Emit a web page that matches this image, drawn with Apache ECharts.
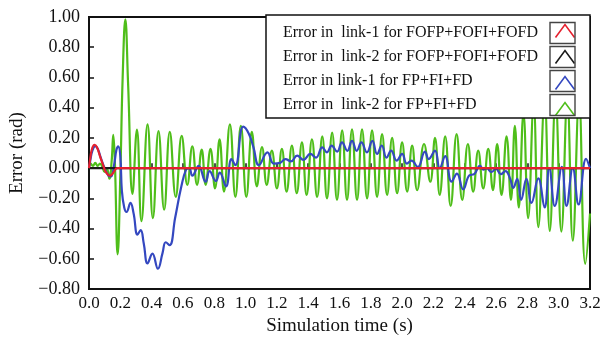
<!DOCTYPE html>
<html>
<head>
<meta charset="utf-8">
<script src="https://cdn.jsdelivr.net/npm/echarts@6/dist/echarts.min.js"></script>
<style>html,body{margin:0;padding:0;background:#fff;}#chart{width:608px;height:341px;}</style>
</head>
<body>
<div id="chart"></div>
<script>
// ---- tick labels ----
const xTickLabels = ['0.0','0.2','0.4','0.6','0.8','1.0','1.2','1.4','1.6','1.8','2.0','2.2','2.4','2.6','2.8','3.0','3.2'];
const yTickLabels = ['\u22120.80','\u22120.60','\u22120.40','\u22120.20','0.00','0.20','0.40','0.60','0.80','1.00'];

// ---- series names ----
const seriesNames = [
  'Error in  link-1 for FOFP+FOFI+FOFD',
  'Error in  link-2 for FOFP+FOFI+FOFD',
  'Error in link-1 for FP+FI+FD',
  'Error in  link-2 for FP+FI+FD'
];
const seriesColors = ['#e5202e', '#1a1a1a', '#3448c0', '#4fbe1a'];

// ---- data: [time (s), error (rad)] ----
const link1FOError = [[0,0],[0.01,0.08],[0.02,0.13],[0.035,0.155],[0.05,0.14],[0.07,0.08],[0.09,0.02],[0.11,-0.03],[0.135,-0.05],[0.155,-0.03],[0.18,0],[0.25,0],[3.2,0]];
const link2FOError = [[0,0],[0.8,0],[1.6,0],[2.4,0],[3.2,0]];
const link1FPError = [[0,0],[0.01,0.06],[0.02,0.11],[0.04,0.145],[0.055,0.13],[0.075,0.07],[0.1,0.0],[0.125,-0.05],[0.14,-0.055],[0.16,0.02],[0.175,0.12],[0.187,0.145],[0.2,0.08],[0.21,-0.15],[0.225,-0.26],[0.24,-0.29],[0.265,-0.23],[0.285,-0.3],[0.31,-0.44],[0.33,-0.41],[0.35,-0.5],[0.374,-0.63],[0.405,-0.565],[0.44,-0.665],[0.47,-0.56],[0.49,-0.49],[0.515,-0.51],[0.55,-0.33],[0.59,-0.12],[0.62,-0.01],[0.64,0.0],[0.66,-0.05],[0.70,0.015],[0.745,-0.09],[0.77,-0.02],[0.81,-0.085],[0.835,-0.03],[0.875,-0.12],[0.91,0.06],[0.935,0.02],[0.985,0.275],[1.02,0.23],[1.05,0.14],[1.085,0.02],[1.14,0.105],[1.18,0.03],[1.22,0.035],[1.255,0.06],[1.29,0.045],[1.33,0.083],[1.37,0.055],[1.414,0.094],[1.45,0.07],[1.49,0.138],[1.52,0.105],[1.55,0.149],[1.585,0.11],[1.616,0.17],[1.65,0.115],[1.68,0.18],[1.71,0.115],[1.74,0.17],[1.775,0.105],[1.81,0.18],[1.84,0.094],[1.87,0.15],[1.90,0.07],[1.93,0.116],[1.965,0.05],[2.0,0.094],[2.03,0.03],[2.06,0.05],[2.10,0.008],[2.146,0.11],[2.17,0.06],[2.21,0.116],[2.24,0.0],[2.275,0.08],[2.316,-0.09],[2.35,-0.036],[2.39,-0.14],[2.43,-0.047],[2.46,-0.04],[2.497,0.015],[2.52,-0.01],[2.54,0.0],[2.57,-0.025],[2.60,-0.005],[2.63,-0.04],[2.66,-0.02],[2.69,-0.07],[2.71,-0.13],[2.735,-0.07],[2.76,-0.21],[2.794,-0.07],[2.826,-0.23],[2.87,-0.068],[2.91,-0.26],[2.94,0.0],[2.975,-0.25],[3.02,0.008],[3.05,-0.25],[3.09,0.0],[3.127,-0.24],[3.175,0.062],[3.2,0.0]];
const link2FPError = [[0,0],[0.01,0.03],[0.025,0.015],[0.04,0.035],[0.055,0.015],[0.07,0.03],[0.085,0.01],[0.1,-0.025],[0.115,-0.005],[0.13,-0.07],[0.145,0.05],[0.155,0.22],[0.165,0.05],[0.183,-0.57],[0.2,-0.05],[0.215,0.6],[0.232,0.985],[0.25,0.55],[0.278,-0.17],[0.306,0.255],[0.335,-0.35],[0.374,0.29],[0.408,-0.33],[0.444,0.246],[0.48,-0.275],[0.516,0.24],[0.554,-0.19],[0.592,0.214],[0.628,-0.11],[0.66,0.145],[0.69,-0.11],[0.72,0.123],[0.745,-0.11],[0.776,0.127],[0.805,-0.134],[0.834,0.19],[0.862,-0.155],[0.9,0.29],[0.935,-0.19],[0.97,0.28],[1.005,-0.19],[1.04,0.24],[1.072,-0.12],[1.105,0.14],[1.135,-0.11],[1.168,0.116],[1.2,-0.134],[1.232,0.127],[1.262,-0.155],[1.296,0.149],[1.327,-0.166],[1.36,0.17],[1.39,-0.177],[1.424,0.19],[1.457,-0.19],[1.49,0.21],[1.52,-0.2],[1.553,0.236],[1.584,-0.21],[1.617,0.25],[1.648,-0.21],[1.68,0.257],[1.712,-0.21],[1.744,0.257],[1.776,-0.2],[1.808,0.25],[1.84,-0.19],[1.872,0.225],[1.904,-0.177],[1.936,0.2],[1.968,-0.166],[2.0,0.17],[2.032,-0.155],[2.064,0.149],[2.096,-0.145],[2.14,0.16],[2.18,-0.09],[2.21,0.2],[2.24,-0.177],[2.275,0.21],[2.31,-0.25],[2.348,0.225],[2.384,-0.21],[2.42,0.16],[2.454,-0.155],[2.486,0.116],[2.518,-0.134],[2.55,0.127],[2.58,-0.145],[2.607,0.16],[2.635,-0.177],[2.667,0.21],[2.695,-0.21],[2.72,0.28],[2.745,-0.26],[2.775,0.36],[2.805,-0.33],[2.84,0.42],[2.87,-0.39],[2.91,0.45],[2.943,-0.415],[2.98,0.45],[3.017,-0.42],[3.055,0.45],[3.09,-0.48],[3.13,0.45],[3.17,-0.633],[3.2,-0.3]];

const seriesData = [link1FOError, link2FOError, link1FPError, link2FPError];

const FONT = 'Liberation Serif';
const chart = echarts.init(document.getElementById('chart'), null, {renderer: 'canvas'});

// draw order: green (bottom), blue, black, red (top)
const drawOrder = [3, 2, 1, 0];
const series = drawOrder.map(i => ({
  name: seriesNames[i],
  type: 'line',
  data: seriesData[i],
  showSymbol: false,
  symbol: 'none',
  smooth: 0.45,
  color: seriesColors[i],
  lineStyle: {color: seriesColors[i], width: 2.2},
  itemStyle: {color: seriesColors[i]},
  animation: false
}));

// legend geometry
const legLeft = 266, legTop = 15, rowH = 16, rowGap = 8, padTop = 10;
const frames = seriesNames.map((n, i) => ({
  type: 'rect',
  z: 20,
  shape: {x: 550, y: legTop + padTop + rowH / 2 + i * (rowH + rowGap) - 10.5, width: 25, height: 21},
  style: {fill: 'none', stroke: '#444', lineWidth: 1.4}
}));

chart.setOption({
  animation: false,
  backgroundColor: '#fff',
  grid: {left: 87, right: 18, top: 17, bottom: 48, show: true, borderColor: '#111', borderWidth: 2, backgroundColor: 'transparent'},
  xAxis: {
    type: 'value', min: 0, max: 3.2, interval: 0.2,
    name: 'Simulation time (s)', nameLocation: 'middle', nameGap: 25,
    nameTextStyle: {fontFamily: FONT, fontSize: 19, color: '#111'},
    axisLine: {show: true, lineStyle: {color: '#111', width: 2}},
    axisTick: {show: true, inside: true, length: 5, lineStyle: {color: '#111', width: 1.5}},
    axisLabel: {fontFamily: FONT, fontSize: 17, color: '#111', margin: 6,
      formatter: v => xTickLabels[Math.round(v / 0.2)]},
    splitLine: {show: false}
  },
  yAxis: {
    type: 'value', min: -0.8, max: 1.0, interval: 0.2,
    name: 'Error (rad)', nameLocation: 'middle', nameGap: 62, nameRotate: 90,
    nameTextStyle: {fontFamily: FONT, fontSize: 19, color: '#111'},
    axisLine: {show: true, lineStyle: {color: '#111', width: 2}},
    axisTick: {show: true, inside: true, length: 5, lineStyle: {color: '#111', width: 1.5}},
    axisLabel: {fontFamily: FONT, fontSize: 18, color: '#111', margin: 9,
      formatter: v => yTickLabels[Math.round((v + 0.8) / 0.2)]},
    splitLine: {show: false}
  },
  legend: [
    {
      left: legLeft, top: legTop, orient: 'vertical', align: 'left',
      padding: [padTop, 17, 5, 11], itemGap: rowGap, itemWidth: 1, itemHeight: 14,
      icon: 'none', itemStyle: {opacity: 0},
      backgroundColor: '#fff', borderColor: '#111', borderWidth: 1.5, z: 10,
      textStyle: {fontFamily: FONT, fontSize: 16, lineHeight: rowH, color: '#111', width: 290},
      data: seriesNames
    },
    {
      left: 553, top: legTop + padTop - 3, orient: 'vertical', align: 'left',
      padding: 0, itemGap: rowGap, itemWidth: 19, itemHeight: 13,
      icon: 'path://M0,13 L9.5,0 L19,13',
      formatter: () => ' ',
      z: 11,
      textStyle: {fontFamily: FONT, fontSize: 16, lineHeight: rowH, width: 1},
      data: seriesNames.map((n, i) => ({name: n, itemStyle: {color: 'none', borderColor: seriesColors[i], borderWidth: 1.6}}))
    }
  ],
  graphic: frames,
  series: series
});
</script>
</body>
</html>
